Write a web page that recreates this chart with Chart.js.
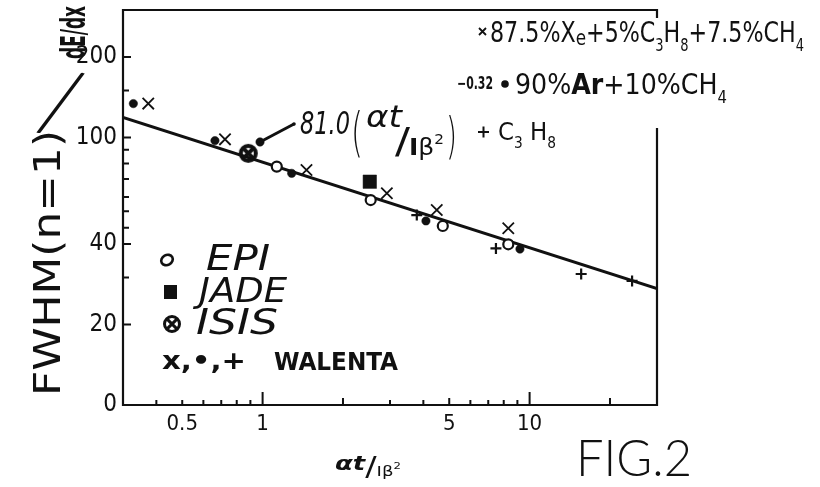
<!DOCTYPE html>
<html>
<head>
<meta charset="utf-8">
<script src="https://cdn.jsdelivr.net/npm/chart.js@4.4.1/dist/chart.umd.min.js"></script>
<style>
  html, body { margin: 0; padding: 0; background: #fff; }
  canvas { display: block; }
</style>
</head>
<body>
<canvas id="c" width="820" height="487"></canvas>
<script>
// αt/Iβ² (x) and FWHM(n=1)/(dE/dx) (y) for each data set
const xeX = [0.373, 0.723, 1.46, 2.92, 4.49, 8.32];
const xeY = [134, 98.5, 75.6, 61.9, 53.6, 45.8];
const arX = [0.328, 0.663, 0.978, 1.285, 4.09, 9.2];
const arY = [134, 97.4, 96.3, 73.5, 48.8, 38.3];
const c3h8X = [3.78, 7.48, 15.6, 24.2];
const c3h8Y = [51.3, 38.5, 30.9, 29.1];
const epiX = [1.13, 2.54, 4.73, 8.32];
const epiY = [77.9, 58.4, 46.7, 39.9];
const jadeX = [2.52];
const jadeY = [68.4];
const isisX = [0.884];
const isisY = [87.3];

// fitted power law: 81.0 (αt/Iβ²)^-0.32
const fitCoef = 81.0;
const fitExp = -0.32;
const fitRange = [0.3, 30];

// axis ranges and ticks
const xRange = [0.3, 30];
const yRange = [10, 300];
const xTickValues = [0.5, 1, 5, 10];
const xTickLabels = ['0.5', '1', '5', '10'];
const xMinorTicks = [0.4, 0.5, 0.6, 0.7, 0.8, 0.9, 3, 4, 6, 7, 8, 9];
const xMidTicks = [2, 5, 20];
const xMajorTicks = [1, 10];
const yTickValues = [10, 20, 40, 100, 200];
const yTickLabels = ['0', '20', '40', '100', '200'];
const yMinorTicks = [30, 46, 53, 60, 70, 80, 90, 150];

const ink = '#111';
const hand = '"DejaVu Sans", "Liberation Sans", sans-serif';
const narrow = '"DejaVu Sans Condensed", "Liberation Sans Narrow", "Liberation Sans", sans-serif';
const thin = '"Lato", "Open Sans", sans-serif';

const pts = (xs, ys) => xs.map((v, i) => ({ x: v, y: ys[i] }));

// ⊗ marker used for the ISIS point
function makeIsis(r, lw) {
  const s = Math.ceil(2 * r + lw + 2);
  const cv = document.createElement('canvas');
  cv.width = s; cv.height = s;
  const g = cv.getContext('2d');
  g.strokeStyle = ink; g.lineWidth = lw;
  g.beginPath(); g.arc(s / 2, s / 2, r, 0, Math.PI * 2); g.stroke();
  const d = r * 0.62;
  g.beginPath();
  g.moveTo(s / 2 - d, s / 2 - d); g.lineTo(s / 2 + d, s / 2 + d);
  g.moveTo(s / 2 + d, s / 2 - d); g.lineTo(s / 2 - d, s / 2 + d);
  g.stroke();
  return cv;
}
const isisPoint = makeIsis(7.5, 4);
const isisKey = makeIsis(7.5, 3);

// text made of pieces with their own size and vertical shift, stretched to a width
function rich(ctx, parts, x, y, o) {
  const base = o.size, fam = o.family || hand, style = o.style || '';
  const fontOf = p => `${p.f !== undefined ? p.f : style} ${Math.round(base * (p.s || 1))}px ${fam}`;
  let w = 0;
  for (const p of parts) { ctx.font = fontOf(p); w += ctx.measureText(p.t).width; }
  const sx = o.width ? o.width / w : 1;
  ctx.save();
  ctx.translate(x, y);
  if (o.rot) ctx.rotate(o.rot);
  ctx.scale(sx, 1);
  ctx.textAlign = 'left';
  ctx.textBaseline = 'alphabetic';
  let cx = 0;
  for (const p of parts) {
    ctx.font = fontOf(p);
    ctx.fillText(p.t, cx, (p.dy || 0) * base);
    cx += ctx.measureText(p.t).width;
  }
  ctx.restore();
}

const decorations = {
  id: 'decorations',
  afterDraw(chart) {
    const { ctx, chartArea: a, scales: { x, y } } = chart;
    ctx.save();
    ctx.strokeStyle = ink;
    ctx.fillStyle = ink;

    // frame (right side broken where the legend runs over it)
    ctx.lineWidth = 2.2;
    ctx.beginPath();
    ctx.moveTo(a.left, a.top - 1); ctx.lineTo(a.left, a.bottom);
    ctx.lineTo(a.right, a.bottom); ctx.lineTo(a.right, 128);
    ctx.moveTo(a.right, a.top + 8); ctx.lineTo(a.right, a.top);
    ctx.lineTo(a.left, a.top);
    ctx.stroke();

    // inward tick marks
    ctx.lineWidth = 2;
    ctx.beginPath();
    yTickValues.filter(v => v > yRange[0]).forEach(v => {
      const py = y.getPixelForValue(v);
      ctx.moveTo(a.left, py); ctx.lineTo(a.left + 8, py);
    });
    yMinorTicks.forEach(v => {
      const py = y.getPixelForValue(v);
      ctx.moveTo(a.left, py); ctx.lineTo(a.left + 6, py);
    });
    xMinorTicks.forEach(v => {
      const px = x.getPixelForValue(v);
      ctx.moveTo(px, a.bottom); ctx.lineTo(px, a.bottom - 5);
    });
    xMidTicks.forEach(v => {
      const px = x.getPixelForValue(v);
      ctx.moveTo(px, a.bottom); ctx.lineTo(px, a.bottom - 7);
    });
    xMajorTicks.forEach(v => {
      const px = x.getPixelForValue(v);
      ctx.moveTo(px, a.bottom); ctx.lineTo(px, a.bottom - 13);
    });
    ctx.stroke();

    // pointer from the formula to the line
    const px0 = x.getPixelForValue(arX[2]), py0 = y.getPixelForValue(arY[2]);
    ctx.lineWidth = 3;
    ctx.beginPath(); ctx.moveTo(px0, py0); ctx.lineTo(294, 124); ctx.stroke();
    ctx.beginPath(); ctx.arc(294, 124, 1.8, 0, Math.PI * 2); ctx.fill();

    // formula
    rich(ctx, [{ t: '81.0' }], 300, 134, { size: 32, style: 'italic', width: 50 });
    rich(ctx, [{ t: '(' }], 351, 151, { size: 54, style: '300', width: 12 });
    rich(ctx, [{ t: 'αt' }], 366, 127, { size: 30, style: 'italic', width: 36 });
    rich(ctx, [{ t: '/' }], 395, 153, { size: 36, style: '', width: 15 });
    rich(ctx, [{ t: 'I', f: 'bold' }, { t: 'β' }, { t: '2', s: 0.6, dy: -0.5 }], 409, 155, { size: 23, style: '', width: 35 });
    rich(ctx, [{ t: ')' }], 446, 153, { size: 50, style: '300', width: 11 });
    rich(ctx, [{ t: '−0.32' }], 457, 89, { size: 17, style: 'bold', width: 36 });

    // legend of gas mixtures
    ctx.lineWidth = 1.8;
    ctx.beginPath();
    ctx.moveTo(479, 28); ctx.lineTo(486, 35); ctx.moveTo(486, 28); ctx.lineTo(479, 35);
    ctx.stroke();
    rich(ctx, [
      { t: '87.5%' }, { t: 'X' }, { t: 'e', s: 0.75, dy: 0.12 },
      { t: '+5%' }, { t: 'C' }, { t: '3', s: 0.6, dy: 0.3 }, { t: 'H' }, { t: '8', s: 0.6, dy: 0.3 },
      { t: '+7.5%' }, { t: 'CH' }, { t: '4', s: 0.6, dy: 0.3 }
    ], 490, 42, { size: 29, family: narrow, width: 314 });
    ctx.beginPath(); ctx.arc(505, 84, 3.8, 0, Math.PI * 2); ctx.fill();
    rich(ctx, [
      { t: '90%' }, { t: 'Ar', f: 'bold' }, { t: '+10%' }, { t: 'CH' }, { t: '4', s: 0.6, dy: 0.3 }
    ], 515, 94, { size: 29, family: narrow, width: 212 });
    ctx.lineWidth = 2;
    ctx.beginPath();
    ctx.moveTo(478, 132); ctx.lineTo(489, 132); ctx.moveTo(483.5, 126.5); ctx.lineTo(483.5, 137.5);
    ctx.stroke();
    rich(ctx, [{ t: 'C' }, { t: '3', s: 0.6, dy: 0.3 }, { t: ' H' }, { t: '8', s: 0.6, dy: 0.3 }],
      498, 140, { size: 25, family: narrow, width: 58 });

    // legend of experiments
    ctx.lineWidth = 2.6;
    ctx.beginPath(); ctx.ellipse(167, 260, 6, 5, -0.5, 0, Math.PI * 2); ctx.stroke();
    rich(ctx, [{ t: 'EPI' }], 206, 270, { size: 36, style: 'italic', width: 64 });
    ctx.fillRect(164, 285, 13, 14);
    rich(ctx, [{ t: 'JADE' }], 199, 302, { size: 34, style: 'italic', width: 88 });
    ctx.drawImage(isisKey, 172 - isisKey.width / 2, 324 - isisKey.height / 2);
    rich(ctx, [{ t: 'ISIS' }], 196, 334, { size: 36, style: 'italic', width: 82 });
    rich(ctx, [{ t: 'x,•,+' }], 162, 369, { size: 24, style: 'bold', family: narrow, width: 84 });
    rich(ctx, [{ t: 'WALENTA' }], 274, 370, { size: 24, style: 'bold', family: narrow, width: 124 });

    // y-axis title: FWHM(n=1) / (dE/dx)
    rich(ctx, [{ t: 'FWHM' }, { t: '(n=1)' }], 60, 396,
      { size: 38, style: '', width: 266, rot: -Math.PI / 2 });
    rich(ctx, [{ t: '/' }], 34, 128, { size: 90, style: '300', family: thin, rot: 0.25 });
    rich(ctx, [{ t: 'dE/dx' }], 85, 59,
      { size: 34, style: 'bold', family: narrow, width: 53, rot: -Math.PI / 2 });

    // x-axis title and figure number
    rich(ctx, [{ t: 'αt', f: 'bold italic' }, { t: '/', s: 1.3, dy: 0.3 }, { t: 'I', s: 0.7, dy: 0.3 }, { t: 'β', s: 0.7, dy: 0.3 }, { t: '2', s: 0.45, dy: -0.05 }],
      335, 470, { size: 20, style: '', width: 66 });
    rich(ctx, [{ t: 'FIG.2' }], 576, 476, { size: 52, style: '300', family: thin, width: 116 });

    ctx.restore();
  }
};

// keep the plot frame exactly where the layout padding puts it
const noEdgePadding = s => { s.paddingTop = 0; s.paddingBottom = 0; s.paddingLeft = 0; s.paddingRight = 0; };

new Chart(document.getElementById('c'), {
  type: 'scatter',
  data: {
    datasets: [
      {
        label: 'fit',
        data: fitRange.map(v => ({ x: v, y: fitCoef * Math.pow(v, fitExp) })),
        showLine: true, borderColor: ink, borderWidth: 3, pointRadius: 0, order: 10
      },
      {
        label: '87.5% Xe + 5% C3H8 + 7.5% CH4', data: pts(xeX, xeY),
        pointStyle: 'crossRot', pointRadius: 8, borderColor: ink, borderWidth: 1.8
      },
      {
        label: '90% Ar + 10% CH4', data: pts(arX, arY),
        pointStyle: 'circle', pointRadius: 4.2, backgroundColor: ink, borderColor: ink, borderWidth: 0.5
      },
      {
        label: 'C3H8', data: pts(c3h8X, c3h8Y),
        pointStyle: 'cross', pointRadius: 5.5, borderColor: ink, borderWidth: 2.2
      },
      {
        label: 'EPI', data: pts(epiX, epiY),
        pointStyle: 'circle', pointRadius: 5, backgroundColor: '#fff', borderColor: ink, borderWidth: 2.2
      },
      {
        label: 'JADE', data: pts(jadeX, jadeY),
        pointStyle: 'rect', pointRadius: 9.5, backgroundColor: ink, borderColor: ink, borderWidth: 0.5
      },
      {
        label: 'ISIS', data: pts(isisX, isisY),
        pointStyle: isisPoint, pointRadius: 8
      }
    ]
  },
  options: {
    responsive: false,
    animation: false,
    devicePixelRatio: 1,
    layout: { padding: { left: 0, top: 10, right: 163, bottom: 0 } },
    plugins: { legend: { display: false }, tooltip: { enabled: false } },
    scales: {
      x: {
        type: 'logarithmic', min: xRange[0], max: xRange[1],
        grid: { display: false, drawTicks: false },
        border: { display: false },
        afterBuildTicks: s => { s.ticks = xTickValues.map(v => ({ value: v })); },
        afterFit: s => { s.height = 82; noEdgePadding(s); },
        ticks: {
          autoSkip: false, maxRotation: 0, padding: 6, color: ink,
          font: { family: narrow, size: 22 },
          callback: v => xTickLabels[xTickValues.indexOf(v)]
        }
      },
      y: {
        type: 'logarithmic', min: yRange[0], max: yRange[1],
        grid: { display: false, drawTicks: false },
        border: { display: false },
        afterBuildTicks: s => { s.ticks = yTickValues.map(v => ({ value: v })); },
        afterFit: s => { s.width = 123; noEdgePadding(s); },
        ticks: {
          autoSkip: false, padding: 6, color: ink,
          font: { family: narrow, size: 24 },
          callback: v => yTickLabels[yTickValues.indexOf(v)]
        }
      }
    }
  },
  plugins: [decorations]
});
</script>
</body>
</html>
